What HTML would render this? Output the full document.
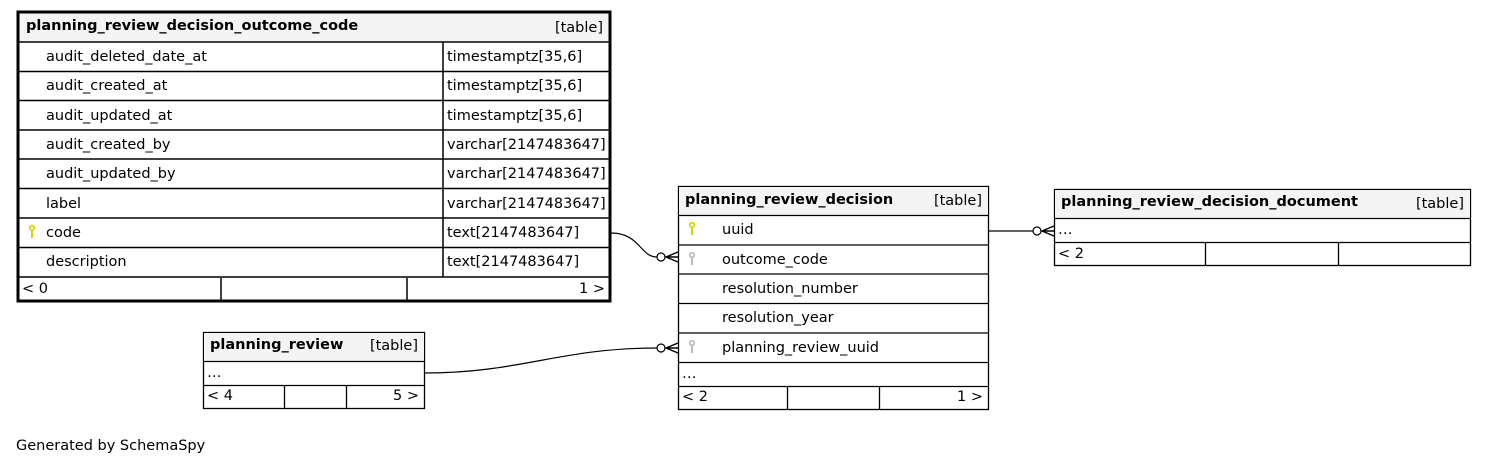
<!DOCTYPE html>
<html><head><style>
html,body{margin:0;padding:0;background:#fff;}
svg{display:block;font-family:"DejaVu Sans","Liberation Sans",sans-serif;font-size:14.5px;}
.b{font-weight:bold;}
</style></head><body>
<svg width="1487" height="465" viewBox="0 0 1487 465" xmlns="http://www.w3.org/2000/svg">
<defs>
<g id="ky"><circle cx="0" cy="0" r="2.3" fill="none" stroke-width="1.6"/><line x1="0" y1="2" x2="0" y2="10" stroke-width="2"/><line x1="0" y1="7" x2="1.5" y2="7" stroke-width="1"/></g>
</defs>
<g fill="none" stroke="#000" stroke-width="1.2">
<path d="M611,233 C640,233 640,257 657,257"/>
<path d="M425,373 C520,373 560,348 657,348"/>
<path d="M989,231 L1033,231"/>
</g>
<g fill="#fff" stroke="#000" stroke-width="1.2">
<circle cx="661" cy="257" r="4"/><circle cx="661" cy="348" r="4"/><circle cx="1037" cy="231" r="4"/>
</g>
<g stroke="#000" stroke-width="1.4" fill="none">
<path d="M678,252 L666,257 L678,262 M666,257 L678,257"/>
<path d="M678,343 L666,348 L678,353 M666,348 L678,348"/>
<path d="M1054,226 L1042,231 L1054,236 M1042,231 L1054,231"/>
</g>

<rect x="18" y="12" width="592" height="289" fill="#fff" stroke="#000" stroke-width="3"/>
<rect x="19.5" y="13.5" width="589" height="28.5" fill="#f4f4f4"/>
<g stroke="#000" stroke-width="1.5">
<line x1="19" y1="42" x2="609" y2="42"/>
<line x1="19" y1="71.5" x2="609" y2="71.5"/>
<line x1="19" y1="100.5" x2="609" y2="100.5"/>
<line x1="19" y1="130" x2="609" y2="130"/>
<line x1="19" y1="159" x2="609" y2="159"/>
<line x1="19" y1="188.5" x2="609" y2="188.5"/>
<line x1="19" y1="218" x2="609" y2="218"/>
<line x1="19" y1="247.5" x2="609" y2="247.5"/>
<line x1="19" y1="277" x2="609" y2="277"/>
<line x1="443" y1="42" x2="443" y2="277"/>
<line x1="221" y1="278" x2="221" y2="300"/>
<line x1="407" y1="278" x2="407" y2="300"/>
</g>
<text x="26" y="30" class="b">planning_review_decision_outcome_code</text>
<text x="603" y="32" text-anchor="end">[table]</text>
<text x="46" y="61">audit_deleted_date_at</text><text x="447" y="61">timestamptz[35,6]</text>
<text x="46" y="90">audit_created_at</text><text x="447" y="90">timestamptz[35,6]</text>
<text x="46" y="120">audit_updated_at</text><text x="447" y="120">timestamptz[35,6]</text>
<text x="46" y="149">audit_created_by</text><text x="447" y="149">varchar[2147483647]</text>
<text x="46" y="178">audit_updated_by</text><text x="447" y="178">varchar[2147483647]</text>
<text x="46" y="208">label</text><text x="447" y="208">varchar[2147483647]</text>
<text x="46" y="237">code</text><text x="447" y="237">text[2147483647]</text>
<text x="46" y="266">description</text><text x="447" y="266">text[2147483647]</text>
<text x="22" y="293">&lt; 0</text><text x="605" y="293" text-anchor="end">1 &gt;</text>
<use href="#ky" x="32" y="228" stroke="#d4d400"/>

<rect x="678.5" y="186.5" width="310" height="223" fill="#fff" stroke="#000" stroke-width="1.3"/>
<rect x="679" y="187" width="309" height="28" fill="#f4f4f4"/>
<g stroke="#000" stroke-width="1.3">
<line x1="678" y1="215.5" x2="989" y2="215.5"/>
<line x1="678" y1="245" x2="989" y2="245"/>
<line x1="678" y1="274" x2="989" y2="274"/>
<line x1="678" y1="303.5" x2="989" y2="303.5"/>
<line x1="678" y1="333" x2="989" y2="333"/>
<line x1="678" y1="362.5" x2="989" y2="362.5"/>
<line x1="678" y1="386.5" x2="989" y2="386.5"/>
<line x1="787.5" y1="387" x2="787.5" y2="409"/>
<line x1="879.5" y1="387" x2="879.5" y2="409"/>
</g>
<text x="685" y="204" class="b">planning_review_decision</text>
<text x="982" y="205" text-anchor="end">[table]</text>
<text x="722" y="234">uuid</text>
<text x="722" y="264">outcome_code</text>
<text x="722" y="293">resolution_number</text>
<text x="722" y="322">resolution_year</text>
<text x="722" y="352">planning_review_uuid</text>
<text x="682" y="378">…</text>
<text x="682" y="401">&lt; 2</text><text x="983" y="401" text-anchor="end">1 &gt;</text>
<use href="#ky" x="692" y="225" stroke="#d4d400"/>
<use href="#ky" x="692" y="255" stroke="#bbb"/>
<use href="#ky" x="692" y="343" stroke="#bbb"/>

<rect x="1054.5" y="189.5" width="416" height="76" fill="#fff" stroke="#000" stroke-width="1.3"/>
<rect x="1055" y="190" width="415" height="28" fill="#f4f4f4"/>
<g stroke="#000" stroke-width="1.3">
<line x1="1054" y1="218.5" x2="1471" y2="218.5"/>
<line x1="1054" y1="242.5" x2="1471" y2="242.5"/>
<line x1="1205.5" y1="243" x2="1205.5" y2="265"/>
<line x1="1338.5" y1="243" x2="1338.5" y2="265"/>
</g>
<text x="1061" y="206" class="b">planning_review_decision_document</text>
<text x="1464" y="208" text-anchor="end">[table]</text>
<text x="1058" y="234">…</text>
<text x="1058" y="258">&lt; 2</text>

<rect x="203.5" y="332.5" width="221" height="76" fill="#fff" stroke="#000" stroke-width="1.3"/>
<rect x="204" y="333" width="220" height="28" fill="#f4f4f4"/>
<g stroke="#000" stroke-width="1.3">
<line x1="203" y1="361.5" x2="425" y2="361.5"/>
<line x1="203" y1="385.5" x2="425" y2="385.5"/>
<line x1="284.5" y1="386" x2="284.5" y2="408"/>
<line x1="346.5" y1="386" x2="346.5" y2="408"/>
</g>
<text x="210" y="349" class="b">planning_review</text>
<text x="418" y="350" text-anchor="end">[table]</text>
<text x="207" y="377">…</text>
<text x="207" y="400">&lt; 4</text><text x="419" y="400" text-anchor="end">5 &gt;</text>

<text x="16" y="450">Generated by SchemaSpy</text>
</svg>
</body></html>
